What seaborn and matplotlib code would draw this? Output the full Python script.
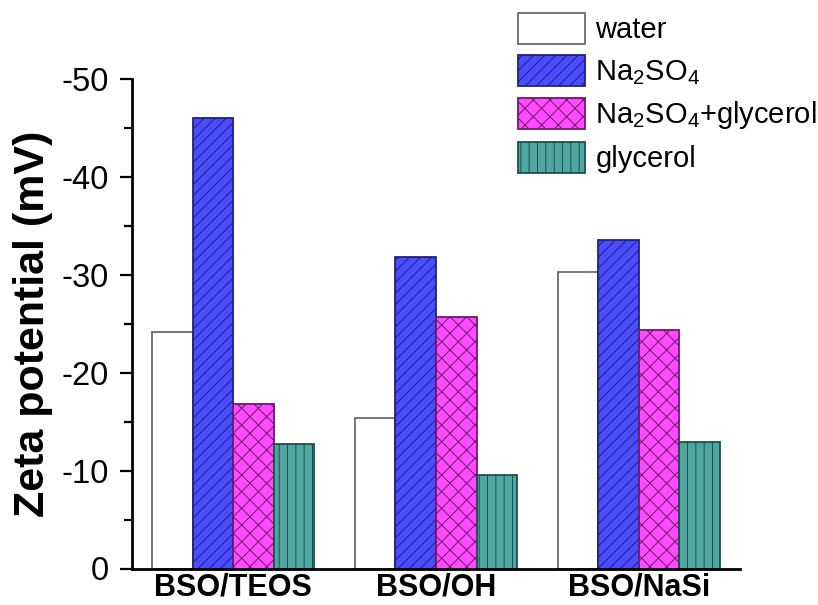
import matplotlib
matplotlib.use("Agg")
import matplotlib.pyplot as plt
from matplotlib.patches import Patch
from matplotlib.ticker import FuncFormatter, MultipleLocator
import seaborn as sns
import pandas as pd

samples = ["BSO/TEOS", "BSO/OH", "BSO/NaSi"]
media = ["water", "Na$_\\mathregular{2}$SO$_\\mathregular{4}$",
         "Na$_\\mathregular{2}$SO$_\\mathregular{4}$+glycerol", "glycerol"]
water = [24.2, 15.4, 30.3]
na2so4 = [46.0, 31.8, 33.6]
na2so4_glycerol = [16.8, 25.7, 24.4]
glycerol = [12.7, 9.6, 12.9]

fills = ["#ffffff", "#4b4bff", "#ff4bff", "#4fa7a2"]
edges = ["#6a6a6a", "#22227a", "#6a1a6a", "#1f4f4c"]
hatches = ["", "///", "xx", "||"]

sns.set_theme(style="ticks")
plt.rcParams["font.family"] = ["Liberation Sans", "DejaVu Sans"]
plt.rcParams["mathtext.fontset"] = "custom"
plt.rcParams["mathtext.rm"] = "Liberation Sans"
plt.rcParams["mathtext.it"] = "Liberation Sans:italic"
plt.rcParams["mathtext.bf"] = "Liberation Sans:bold"
plt.rcParams["hatch.linewidth"] = 0.7
for k in ["text.color", "axes.labelcolor", "xtick.color", "ytick.color", "axes.edgecolor"]:
    plt.rcParams[k] = "black"

rows = []
for vals, m in zip([water, na2so4, na2so4_glycerol, glycerol], media):
    for s, v in zip(samples, vals):
        rows.append({"sample": s, "medium": m, "zeta": v})
df = pd.DataFrame(rows)

fig = plt.figure(figsize=(8.18, 6.05), dpi=100)
ax = fig.add_axes([132 / 818, 1 - 568.5 / 605, (740 - 132) / 818, (568.5 - 79) / 605])

sns.barplot(data=df, x="sample", y="zeta", hue="medium", hue_order=media,
            order=samples, palette=fills, saturation=1, width=0.8,
            legend=False, ax=ax, errorbar=None)

for cont, ec, h in zip(ax.containers, edges, hatches):
    for p in cont:
        p.set_edgecolor(ec)
        p.set_hatch(h)
        p.set_linewidth(1.3)

ax.set_xlim(-0.5, 2.5)
ax.set_ylim(0, 50)
ax.yaxis.set_major_locator(MultipleLocator(10))
ax.yaxis.set_minor_locator(MultipleLocator(5))
ax.yaxis.set_major_formatter(FuncFormatter(lambda v, p: "0" if v == 0 else f"-{int(v)}"))
ax.tick_params(axis="y", which="major", length=9, width=1.6, labelsize=23.5, pad=8, color="black", labelcolor="black")
ax.tick_params(axis="y", which="minor", length=6, width=1.6, color="black")
ax.tick_params(axis="x", length=0, labelsize=22, pad=3, labelcolor="black")
for lab in ax.get_xticklabels():
    lab.set_fontweight("bold")
ax.set_xlabel("")
ax.set_ylabel("Zeta potential (mV)", fontsize=31, fontweight="bold", labelpad=6, color="black")
sns.despine(ax=ax)
for sp in ["left", "bottom"]:
    ax.spines[sp].set_linewidth(2)
    ax.spines[sp].set_color("black")

handles = [Patch(facecolor=f, edgecolor=e, hatch=h, linewidth=1.3)
           for f, e, h in zip(fills, edges, hatches)]
fig.legend(handles, media, loc="upper left", bbox_to_anchor=(518 / 818, 1 - 13 / 605),
           frameon=False, fontsize=21, handlelength=2.3, handleheight=1.28,
           labelspacing=0.36, handletextpad=0.35, borderpad=0, borderaxespad=0,
           labelcolor="black")

fig.savefig("out.png", dpi=100)
